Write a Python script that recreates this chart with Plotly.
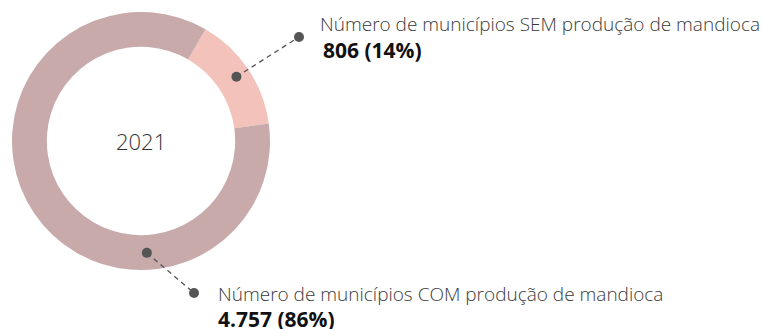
import math
import plotly.graph_objects as go

# Municípios brasileiros segundo a produção de mandioca, 2021
labels = ["Número de municípios SEM produção de mandioca",
          "Número de municípios COM produção de mandioca"]
values = [806, 4757]
value_text = ["806", "4.757"]
year = "2021"
colors = ["#f2c2bb", "#c8aaab"]

W, H = 762, 329
CX, CY, R = 141, 141, 129      # donut centre and outer radius in px
HOLE = 0.73
ROTATION = 30                  # first slice starts 30° clockwise from 12 o'clock

total = sum(values)
shares = [v / total for v in values]
pct_text = [f"{round(s * 100)}%" for s in shares]


def px_to_paper(x, y):
    return x / W, 1 - y / H


def ring_point(angle_deg, r):
    a = math.radians(angle_deg)
    return CX + r * math.sin(a), CY - r * math.cos(a)


fig = go.Figure()
x0, y0 = px_to_paper(CX - R, CY + R)
x1, y1 = px_to_paper(CX + R, CY - R)
fig.add_trace(go.Pie(
    labels=labels, values=values, hole=HOLE, sort=False,
    direction="clockwise", rotation=ROTATION,
    marker=dict(colors=colors, line=dict(width=0)),
    textinfo="none", hoverinfo="label+value+percent", showlegend=False,
    domain=dict(x=[x0, x1], y=[y0, y1]),
))

# callouts: anchor angle on the ring, outer dot, label line / value line centres (px)
mid_sem = ROTATION + shares[0] * 360 / 2
callouts = [
    dict(angle=mid_sem, r=115, dot=(299, 37), text=(318, 24), value=(321, 50)),
    dict(angle=177, r=112, dot=(194, 293), text=(216, 294), value=(216, 319)),
]

shapes, annotations = [], []
dot_r = 5
for i, c in enumerate(callouts):
    ax, ay = ring_point(c["angle"], c["r"])
    bx, by = c["dot"]
    p0 = px_to_paper(ax, ay)
    p1 = px_to_paper(bx, by)
    shapes.append(dict(type="line", xref="paper", yref="paper",
                       x0=p0[0], y0=p0[1], x1=p1[0], y1=p1[1],
                       line=dict(color="#555555", width=1.3, dash="5px,4px")))
    for (px, py) in [(ax, ay), (bx, by)]:
        q0 = px_to_paper(px - dot_r, py + dot_r)
        q1 = px_to_paper(px + dot_r, py - dot_r)
        shapes.append(dict(type="circle", xref="paper", yref="paper",
                           x0=q0[0], y0=q0[1], x1=q1[0], y1=q1[1],
                           fillcolor="#555555", line=dict(width=0)))
    tx, ty = c["text"]
    t0 = px_to_paper(tx, ty)
    annotations.append(dict(x=t0[0], y=t0[1], xref="paper", yref="paper",
                            xanchor="left", yanchor="middle", showarrow=False,
                            text=labels[i],
                            font=dict(family="Open Sans", size=19, color="#3a3a3a", weight=300)))
    vx, vy = c["value"]
    t1 = px_to_paper(vx, vy)
    annotations.append(dict(x=t1[0], y=t1[1], xref="paper", yref="paper",
                            xanchor="left", yanchor="middle", showarrow=False,
                            text=f"<b>{value_text[i]} ({pct_text[i]})</b>",
                            font=dict(family="Open Sans", size=21, color="#111111")))

c0 = px_to_paper(CX, CY)
annotations.append(dict(x=c0[0], y=c0[1], xref="paper", yref="paper",
                        xanchor="center", yanchor="middle", showarrow=False,
                        text=year,
                        font=dict(family="Open Sans", size=22, color="#333333", weight=300)))

fig.update_layout(
    width=W, height=H, margin=dict(l=0, r=0, t=0, b=0),
    paper_bgcolor="white", plot_bgcolor="white",
    shapes=shapes, annotations=annotations,
)

fig.write_html("out.html")
